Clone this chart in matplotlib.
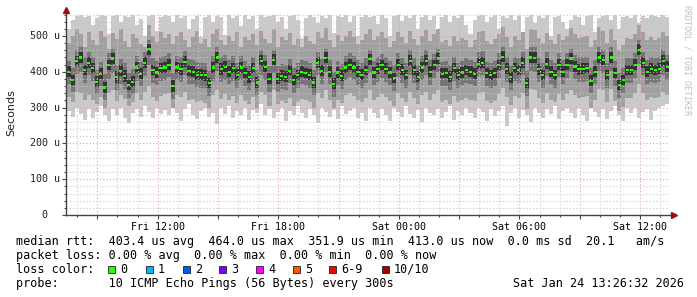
import matplotlib
matplotlib.use("Agg")
import matplotlib.pyplot as plt
import matplotlib.dates as mdates
import matplotlib.ticker as mticker
from matplotlib.patches import Rectangle
import numpy as np
import pandas as pd

# samples every 12 min, Fri 23 Jan 07:28 -> Sat 24 Jan 13:16
times = pd.date_range("2026-01-23 07:28", periods=150, freq="12min")

# median rtt (microseconds)
median = [400,378,430,440,405,425,410,372,395,356,418,437,385,402,388,362,372,412,395,424,463,405,398,410,412,
          420,360,412,408,428,402,400,392,392,390,368,412,440,408,414,400,410,391,412,396,385,410,370,430,414,
          380,434,380,388,386,403,377,390,400,397,391,370,425,402,438,400,366,398,388,412,420,412,400,391,405,
          435,398,409,418,409,398,382,420,406,391,430,405,386,412,430,400,418,437,395,396,386,410,392,398,405,
          400,395,423,425,396,390,396,419,442,408,385,410,405,425,368,440,438,407,390,423,400,391,420,400,420,
          437,415,407,408,410,375,400,440,433,391,440,396,362,377,405,405,420,462,425,400,409,405,409,430,414]

# smoke: outermost pings (max / min)
hi1 = [520,545,556,558,552,556,530,549,558,555,505,556,558,540,556,553,558,530,548,500,556,558,515,553,558,
       556,540,558,549,556,520,548,557,498,553,558,540,556,552,503,558,550,556,528,558,547,555,520,558,553,
       556,558,540,552,520,556,558,544,495,550,558,553,536,556,549,558,508,555,552,558,540,556,500,553,558,
       552,556,533,558,549,500,555,558,542,556,551,558,520,554,558,546,556,505,552,558,540,555,550,558,530,
       505,546,556,558,540,553,558,520,556,550,558,545,556,510,553,558,537,556,549,558,500,552,556,540,520,
       546,558,553,530,556,558,512,550,556,558,545,558,520,553,556,549,558,535,556,550,558,556,553,558,552]
lo1 = [290,275,300,282,265,296,270,288,305,280,262,295,278,300,270,258,285,296,275,305,288,270,300,282,292,
       278,300,285,262,295,310,280,268,290,300,275,286,255,298,282,305,270,290,278,300,265,292,285,310,278,
       296,270,288,300,262,290,278,305,285,270,296,280,258,300,288,275,292,268,305,282,290,300,272,286,262,
       300,285,270,295,280,262,298,288,275,305,283,270,292,260,300,285,278,296,270,288,305,265,290,280,298,
       285,270,300,288,262,295,276,290,305,250,285,298,270,292,280,260,300,286,272,295,282,305,268,290,300,
       285,270,298,280,262,300,288,275,295,268,290,305,280,262,298,285,300,272,288,295,265,290,300,305,310]

# smoke: second pair
hi2 = [480,500,520,505,470,512,490,475,515,498,465,508,492,520,486,470,505,495,478,470,530,500,482,510,495,
       505,478,500,512,488,470,498,515,480,492,470,505,520,490,476,500,485,512,470,498,488,505,475,515,492,
       480,520,470,496,488,508,474,492,470,500,486,478,512,495,522,490,468,502,485,500,515,496,478,490,505,
       520,488,500,510,495,470,485,512,498,480,515,492,476,500,518,485,506,520,482,490,472,500,486,495,490,
       470,488,510,515,485,478,492,505,525,496,470,500,490,512,465,520,516,494,480,508,488,478,505,490,500,
       522,505,495,498,500,470,488,525,515,480,520,490,462,475,495,492,505,530,510,488,498,490,495,512,500]
lo2 = [330,315,345,340,320,335,322,310,330,300,340,350,318,335,325,305,315,340,322,345,360,330,318,332,338,
       342,300,335,330,345,322,325,315,318,312,300,335,350,325,338,320,332,312,336,318,310,330,300,345,335,
       305,350,310,318,312,328,305,315,325,322,316,300,342,326,350,322,298,320,312,335,340,332,322,315,328,
       350,320,330,338,330,318,305,340,326,315,345,328,310,335,345,322,338,350,316,320,310,332,315,320,328,
       322,318,340,345,318,312,318,338,355,330,308,332,328,342,295,352,350,328,312,340,322,315,338,322,338,
       350,335,328,330,332,300,322,352,348,315,352,318,290,302,328,326,340,365,342,322,330,328,330,345,335]

# smoke: third pair
hi3 = [430,410,460,468,440,455,440,405,428,395,452,465,420,435,425,398,408,445,428,455,490,438,430,442,445,
       452,398,445,440,458,435,432,428,425,425,402,445,470,440,448,432,444,426,445,430,420,442,405,460,448,
       415,462,415,422,420,436,410,424,432,430,425,404,455,435,465,432,400,430,422,445,452,445,432,426,438,
       462,430,442,450,440,430,418,452,438,425,460,438,420,445,460,432,450,465,428,430,420,442,426,430,438,
       432,428,455,458,428,424,430,452,470,440,418,442,438,456,402,468,468,440,424,455,432,425,452,432,452,
       465,448,440,440,442,410,432,470,462,425,470,430,398,412,438,438,452,488,456,432,442,438,442,460,448]
lo3 = [365,345,395,400,370,390,375,338,360,322,380,398,350,365,352,328,338,375,360,388,420,370,362,375,378,
       385,325,378,372,392,365,365,358,356,355,332,375,402,372,378,365,375,355,376,360,350,372,335,392,378,
       345,398,345,352,350,368,340,355,365,362,355,335,390,365,400,365,330,362,352,376,385,376,364,355,370,
       398,362,372,382,372,362,346,385,370,356,392,368,350,376,392,364,382,400,360,360,350,374,356,362,368,
       365,360,388,390,360,354,360,384,405,372,350,374,368,390,332,402,400,372,355,388,365,355,385,365,384,
       400,380,372,372,375,340,365,402,396,356,402,360,328,342,370,368,384,422,390,365,372,368,372,392,378]

# smoke: inner pair
hi4 = [415,392,445,455,420,440,425,388,410,372,432,452,402,418,405,378,388,428,410,440,478,420,414,426,428,
       436,376,428,424,444,418,416,408,408,406,384,428,456,424,430,416,426,408,428,412,402,426,386,446,430,
       396,450,396,404,402,420,392,406,416,412,408,386,440,418,454,416,382,414,404,428,436,428,416,408,420,
       450,414,424,434,424,414,398,436,422,406,446,420,402,428,446,416,434,452,412,412,402,426,408,414,420,
       416,412,438,440,412,406,412,434,458,424,400,426,420,440,384,456,454,422,406,438,416,406,436,416,436,
       452,430,422,424,426,390,416,456,448,406,456,412,378,392,420,420,436,478,440,416,424,420,424,446,430]
lo4 = [386,364,416,425,390,410,396,357,380,340,404,422,370,388,372,348,358,398,380,410,448,390,384,396,398,
       406,345,398,392,414,388,386,378,376,374,354,398,425,392,400,386,396,376,398,382,370,396,356,416,400,
       365,420,366,374,372,390,362,376,386,382,378,356,410,388,424,386,352,384,374,398,406,398,386,376,390,
       420,384,394,404,394,384,368,406,392,376,416,390,372,398,416,386,404,422,382,382,372,396,378,384,392,
       386,380,408,410,382,376,382,404,428,394,370,396,392,410,354,426,424,392,376,408,386,376,406,386,406,
       422,400,392,394,396,360,386,426,418,376,426,382,348,362,392,390,406,448,410,386,394,390,394,416,400]

loss_labels = ["0", "1", "2", "3", "4", "5", "6-9", "10/10"]
loss_colors = ["#26ff00", "#00b8ff", "#0059ff", "#7e00ff", "#ff00ff", "#ff5500", "#ff0000", "#a10000"]
y_ticks = [0, 100, 200, 300, 400, 500]

W, H = 697, 297
mono = "DejaVu Sans Mono"
fig = plt.figure(figsize=(W / 100, H / 100), dpi=100)
ax = fig.add_axes([66 / W, 82 / H, 603 / W, 201 / H])

x = mdates.date2num(times)
dt = 12 / 1440
bands = [(lo1, hi1, "#cacaca"), (lo2, hi2, "#a0a0a0"), (lo3, hi3, "#767676"), (lo4, hi4, "#333333")]
for lo, hi, c in bands:
    lo = np.array(lo)
    hi = np.array(hi)
    ax.bar(x, hi - lo, bottom=lo, width=dt, align="edge", color=c, linewidth=0, zorder=1)

med = np.array(median)
ax.bar(x + 0.1 * dt, 6, bottom=med - 3, width=0.8 * dt, align="edge", color=loss_colors[0],
       linewidth=0, zorder=3)

t0 = pd.Timestamp("2026-01-23 07:26:32")
ax.set_xlim(mdates.date2num(t0), mdates.date2num(t0 + pd.Timedelta(hours=30)))
ax.set_ylim(0, 561.5)

ax.xaxis.set_major_locator(mdates.HourLocator(byhour=range(0, 24, 3)))
ax.xaxis.set_minor_locator(mdates.HourLocator())
ax.xaxis.set_major_formatter(mticker.FuncFormatter(
    lambda v, p: mdates.num2date(v).strftime("%a %H:%M") if mdates.num2date(v).hour % 6 == 0 else ""))
ax.yaxis.set_major_locator(mticker.FixedLocator(y_ticks))
ax.yaxis.set_minor_locator(mticker.MultipleLocator(20))
ax.yaxis.set_major_formatter(mticker.NullFormatter())

ax.set_axisbelow(False)
ax.grid(which="major", color="#e0a0a0", linestyle=(0, (1, 2)), linewidth=0.8)
ax.grid(which="minor", color="#c8c8c8", linestyle=(0, (1, 2)), linewidth=0.8)
ax.tick_params(which="major", length=3, width=0.8, color="#444444", labelsize=7.2, pad=2)
ax.tick_params(which="minor", length=1.5, width=0.8, color="#444444")
for lbl in ax.get_xticklabels():
    lbl.set_family(mono)

for s in ax.spines.values():
    s.set_visible(False)
ax.plot([0, 0], [0, 1.02], transform=ax.transAxes, color="#444444", lw=1, clip_on=False, zorder=4)
ax.plot([0, 1.008], [0, 0], transform=ax.transAxes, color="#444444", lw=1, clip_on=False, zorder=4)
ax.plot([0], [1.02], marker="^", ms=4, color="#991111", transform=ax.transAxes, clip_on=False, zorder=5)
ax.plot([1.008], [0], marker=">", ms=4, color="#991111", transform=ax.transAxes, clip_on=False, zorder=5)

for v in y_ticks:
    lab = f"{v:3d} u" if v else "  0"
    ax.text(-36 / 603, v, lab, transform=ax.get_yaxis_transform(), ha="left", va="center",
            family=mono, fontsize=7.2, color="#222222")

fig.text(11 / W, 1 - 113 / H, "Seconds", rotation=90, ha="center", va="center", fontsize=8, color="#222222")
fig.text(687 / W, 1 - 5 / H, "RRDTOOL / TOBI OETIKER", rotation=270, ha="center", va="top",
         family=mono, fontsize=6, color="#c0c0c0")

fs = 8.5
rows_y = [241, 255.5, 269.3, 283.5]
fig.text(16 / W, 1 - rows_y[0] / H,
         "median rtt:  403.4 us avg  464.0 us max  351.9 us min  413.0 us now  0.0 ms sd  20.1   am/s",
         family=mono, fontsize=fs, va="center")
fig.text(16 / W, 1 - rows_y[1] / H,
         "packet loss: 0.00 % avg  0.00 % max  0.00 % min  0.00 % now",
         family=mono, fontsize=fs, va="center")
fig.text(16 / W, 1 - rows_y[2] / H, "loss color:", family=mono, fontsize=fs, va="center")
box_x = [108, 146, 183, 219, 256, 293, 329, 382]
for bx, lab, c in zip(box_x, loss_labels, loss_colors):
    fig.patches.append(Rectangle((bx / W, 1 - (rows_y[2] + 3.5) / H), 7 / W, 7 / H,
                                 transform=fig.transFigure, facecolor=c, edgecolor="#222222", lw=0.6))
    fig.text((bx + 12) / W, 1 - rows_y[2] / H, lab, family=mono, fontsize=fs, va="center")
fig.text(16 / W, 1 - rows_y[3] / H,
         "probe:       10 ICMP Echo Pings (56 Bytes) every 300s",
         family=mono, fontsize=fs, va="center")
fig.text(513 / W, 1 - rows_y[3] / H, "Sat Jan 24 13:26:32 2026", family=mono, fontsize=fs, va="center")

fig.savefig("out.png", dpi=100, facecolor="white")
